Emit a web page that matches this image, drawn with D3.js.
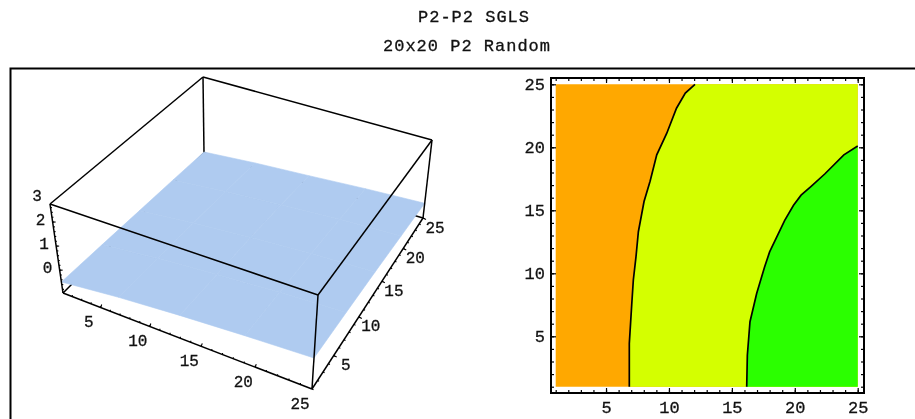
<!DOCTYPE html>
<html>
<head>
<meta charset="utf-8">
<script src="https://cdnjs.cloudflare.com/ajax/libs/d3/7.8.5/d3.min.js"></script>
<style>
  html, body { margin: 0; padding: 0; background: #fff; overflow: hidden; }
  svg { display: block; filter: blur(0.45px); }
  text { font-family: "Liberation Mono", "DejaVu Sans Mono", monospace; fill: #111; stroke: #111; stroke-width: 0.3px; }
  .tick line { stroke: #000; stroke-width: 1.2px; }
</style>
</head>
<body>
<div id="chart"></div>
<script>
// Chart text and tick values
var titleLines = ["P2-P2 SGLS", "20x20 P2 Random"];
var axisTicks = [5, 10, 15, 20, 25];
var minorTicks = d3.range(1, 26);
var zAxisTicks = [0, 1, 2, 3];
var zMinorTicks = [-0.8, -0.6, -0.4, -0.2, 0, 0.2, 0.4, 0.6, 0.8, 1, 1.2, 1.4, 1.6, 1.8, 2, 2.2, 2.4, 2.6];

// Contour lines
var contourLowX = [6.85, 6.85, 7.04, 7.17, 7.38, 7.57, 8.02, 8.5, 9.03, 9.82, 10.6, 11.3, 12.07];
var contourLowY = [1, 4.44, 7.48, 9.47, 11.3, 13.3, 15.7, 17.3, 19.4, 21.1, 23.1, 24.3, 25];
var contourHighX = [16.18, 16.23, 16.44, 16.97, 17.6, 18.0, 19.2, 19.9, 20.5, 21.3, 22.4, 23.9, 25];
var contourHighY = [1, 3.5, 6.16, 8.4, 10.5, 11.7, 14.2, 15.4, 16.2, 16.9, 17.9, 19.4, 20.1];

// Surface heights on a coarse grid
var surfaceX = [1, 7, 13, 19, 25];
var surfaceY = [1, 7, 13, 19, 25];
var surfaceZ = [
  [-0.49, -0.22, -0.02, 0.14, 0.27],
  [-0.58, -0.32, -0.12, 0.05, 0.17],
  [-0.68, -0.42, -0.22, -0.05, 0.05],
  [-0.78, -0.55, -0.36, -0.2, -0.1],
  [-0.9, -0.7, -0.55, -0.38, -0.25]
];

var svgWidth = 915;
var svgHeight = 419;

var svg = d3.select("#chart")
  .append("svg")
  .attr("width", svgWidth)
  .attr("height", svgHeight);

// titles, the two lines are not quite on the same centre
var titleCentres = [474, 467];
svg.selectAll(".title")
  .data(titleLines)
  .enter()
  .append("text")
  .attr("class", "title")
  .attr("x", (d, i) => titleCentres[i])
  .attr("y", (d, i) => 22 + i * 29)
  .attr("text-anchor", "middle")
  .style("font-size", "17px")
  .style("letter-spacing", "1px")
  .text(d => d);

// outer frame runs off the right and bottom of the image
svg.append("rect")
  .attr("x", 10.5)
  .attr("y", 68.5)
  .attr("width", 940)
  .attr("height", 400)
  .attr("fill", "none")
  .attr("stroke", "#000")
  .attr("stroke-width", 2);

// ---------- contour panel ----------
var x = d3.scaleLinear().domain([1, 25]).range([555.7, 857.7]);
var y = d3.scaleLinear().domain([1, 25]).range([386.7, 84.3]);

var contourLine = d3.line().x(d => x(d[0])).y(d => y(d[1]));
var lowLine = d3.zip(contourLowX, contourLowY);
var highLine = d3.zip(contourHighX, contourHighY);

var contourGroup = svg.append("g");

// orange base
contourGroup.append("path")
  .attr("d", contourLine([[1, 1], [25, 1], [25, 25], [1, 25]]) + "Z")
  .attr("fill", "#ffa800");

// yellow band: everything to the right of the first contour
contourGroup.append("path")
  .attr("d", contourLine(lowLine.concat([[25, 25], [25, 1]])) + "Z")
  .attr("fill", "#d4ff00");

// green corner
contourGroup.append("path")
  .attr("d", contourLine(highLine.concat([[25, 1]])) + "Z")
  .attr("fill", "#2bff00");

contourGroup.selectAll(".contour")
  .data([lowLine, highLine])
  .enter()
  .append("path")
  .attr("class", "contour")
  .attr("d", contourLine)
  .attr("fill", "none")
  .attr("stroke", "#000")
  .attr("stroke-width", 1.7);

// frame around the contour plot
var frame = { left: 551, right: 864, top: 78, bottom: 393 };
contourGroup.append("rect")
  .attr("x", frame.left)
  .attr("y", frame.top)
  .attr("width", frame.right - frame.left)
  .attr("height", frame.bottom - frame.top)
  .attr("fill", "none")
  .attr("stroke", "#000")
  .attr("stroke-width", 2);

function drawAxis(axisFn, scale, translate, values, size, labelled, padding) {
  var g = contourGroup.append("g")
    .attr("transform", translate)
    .call(axisFn(scale).tickValues(values).tickSize(size).tickSizeOuter(0).tickPadding(padding)
      .tickFormat(labelled ? d3.format("d") : ""));
  g.select(".domain").remove();
  g.selectAll("text").style("font-size", "17px");
  return g;
}

// minor ticks, then major ticks with labels
drawAxis(d3.axisBottom, x, `translate(0,${frame.bottom})`, minorTicks, -3, false, 8);
drawAxis(d3.axisTop, x, `translate(0,${frame.top})`, minorTicks, -3, false, 8);
drawAxis(d3.axisLeft, y, `translate(${frame.left},0)`, minorTicks, -3, false, 8);
drawAxis(d3.axisRight, y, `translate(${frame.right},0)`, minorTicks, -3, false, 8);
drawAxis(d3.axisBottom, x, `translate(0,${frame.bottom})`, axisTicks, -5, true, 8);
drawAxis(d3.axisTop, x, `translate(0,${frame.top})`, axisTicks, -5, false, 8);
drawAxis(d3.axisLeft, y, `translate(${frame.left},0)`, axisTicks, -5, true, 6);
drawAxis(d3.axisRight, y, `translate(${frame.right},0)`, axisTicks, -5, false, 8);

// ---------- 3D panel ----------
// box corners on screen: (x=1,y=1), (25,1), (25,25), (1,25)
var boxTop = [[50, 204], [318, 295], [432, 140], [203, 77]];
var boxBottom = [[63, 293], [312, 389], [423, 218], [204, 153]];

var u = d3.scaleLinear().domain([1, 25]).range([0, 1]);
var v = d3.scaleLinear().domain([1, 25]).range([0, 1]);
var w = d3.scaleLinear().domain([-0.95, 2.75]).range([0, 1]);

// unit square to quad mapping, gives the perspective along the edges
function homography(q) {
  var dx1 = q[1][0] - q[2][0], dx2 = q[3][0] - q[2][0], sx = q[0][0] - q[1][0] + q[2][0] - q[3][0];
  var dy1 = q[1][1] - q[2][1], dy2 = q[3][1] - q[2][1], sy = q[0][1] - q[1][1] + q[2][1] - q[3][1];
  var den = dx1 * dy2 - dx2 * dy1;
  var g = (sx * dy2 - dx2 * sy) / den;
  var h = (dx1 * sy - sx * dy1) / den;
  var a = q[1][0] - q[0][0] + g * q[1][0], b = q[3][0] - q[0][0] + h * q[3][0];
  var d = q[1][1] - q[0][1] + g * q[1][1], e = q[3][1] - q[0][1] + h * q[3][1];
  return function(s, t) {
    var n = g * s + h * t + 1;
    return [(a * s + b * t + q[0][0]) / n, (d * s + e * t + q[0][1]) / n];
  };
}

var topPlane = homography(boxTop);
var bottomPlane = homography(boxBottom);

function project(px, py, pz) {
  var lo = bottomPlane(u(px), v(py));
  var hi = topPlane(u(px), v(py));
  var f = w(pz);
  return [lo[0] + (hi[0] - lo[0]) * f, lo[1] + (hi[1] - lo[1]) * f];
}

var zLow = w.domain()[0];
var zHigh = w.domain()[1];
var boxLine = d3.line();
var box = svg.append("g").attr("fill", "none").attr("stroke", "#000").attr("stroke-width", 1.5);

function edge(group, a, b) {
  group.append("path").attr("d", boxLine([project(a[0], a[1], a[2]), project(b[0], b[1], b[2])]));
}

// hidden edges go under the surface
edge(box, [1, 1, zLow], [1, 25, zLow]);
edge(box, [25, 25, zLow], [1, 25, zLow]);
edge(box, [1, 25, zLow], [1, 25, zHigh]);

// surface cells
var cells = [];
surfaceZ.forEach(function(row, j) {
  row.forEach(function(z, i) {
    if (i < surfaceX.length - 1 && j < surfaceY.length - 1) {
      cells.push([
        project(surfaceX[i], surfaceY[j], z),
        project(surfaceX[i + 1], surfaceY[j], row[i + 1]),
        project(surfaceX[i + 1], surfaceY[j + 1], surfaceZ[j + 1][i + 1]),
        project(surfaceX[i], surfaceY[j + 1], surfaceZ[j + 1][i])
      ]);
    }
  });
});

svg.append("g").selectAll("path")
  .data(cells)
  .enter()
  .append("path")
  .attr("d", d => boxLine(d) + "Z")
  .attr("fill", "#afcbf0")
  .attr("stroke", "#afcbf0")
  .attr("stroke-width", 0.6);

// visible edges
var frontBox = svg.append("g").attr("fill", "none").attr("stroke", "#000").attr("stroke-width", 1.5);
edge(frontBox, [1, 1, zHigh], [25, 1, zHigh]);
edge(frontBox, [25, 1, zHigh], [25, 25, zHigh]);
edge(frontBox, [25, 25, zHigh], [1, 25, zHigh]);
edge(frontBox, [1, 25, zHigh], [1, 1, zHigh]);
edge(frontBox, [1, 1, zLow], [25, 1, zLow]);
edge(frontBox, [25, 1, zLow], [25, 25, zLow]);
edge(frontBox, [1, 1, zLow], [1, 1, zHigh]);
edge(frontBox, [25, 1, zLow], [25, 1, zHigh]);
edge(frontBox, [25, 25, zLow], [25, 25, zHigh]);

// ticks on the three labelled edges
function drawTicks(values, at, dx, dy) {
  svg.append("g").selectAll("line")
    .data(values)
    .enter()
    .append("line")
    .attr("x1", d => at(d)[0])
    .attr("y1", d => at(d)[1])
    .attr("x2", d => at(d)[0] + dx)
    .attr("y2", d => at(d)[1] + dy)
    .attr("stroke", "#000")
    .attr("stroke-width", 1.1);
}

function drawLabels(values, at, dx, dy) {
  svg.append("g").selectAll("text")
    .data(values)
    .enter()
    .append("text")
    .attr("x", d => at(d)[0] + dx)
    .attr("y", d => at(d)[1] + dy)
    .attr("text-anchor", "middle")
    .attr("dy", "0.35em")
    .style("font-size", "16px")
    .text(d => d);
}

var alongX = d => project(d, 1, zLow);
var alongY = d => project(25, d, zLow);
var alongZ = d => project(1, 1, d);

drawTicks(minorTicks, alongX, 0, -1.5);
drawTicks(axisTicks, alongX, 1, -3);
drawTicks(minorTicks, alongY, 1.5, 0.8);
drawTicks(axisTicks, alongY, 3, 1.5);
drawTicks(zMinorTicks, alongZ, 1.5, 0);
drawTicks(zAxisTicks.slice(0, 3), alongZ, 3, 0);

drawLabels(axisTicks, alongX, -12, 14);
drawLabels(axisTicks, alongY, 12, 9);
drawLabels(zAxisTicks, alongZ, -12, -3);
</script>
</body>
</html>
